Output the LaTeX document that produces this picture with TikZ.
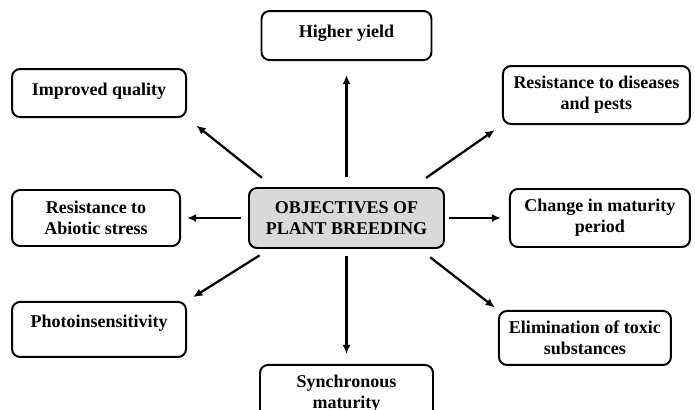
\documentclass[tikz,border=0pt]{standalone}
\usepackage{fontspec}
\setmainfont{Liberation Serif}
\usetikzlibrary{positioning,arrows.meta}
\tikzset{aim node/.style={rectangle,rounded corners=0.2cm,draw,line width=1.4pt,inner sep=0pt,align=center,
            font=\fontsize{12.8}{14.8}\selectfont\bfseries},
         main node/.style={aim node,fill=black!15,minimum width=4.875cm,minimum height=1.5cm},
            }

\begin{document}
\begin{tikzpicture}
    \useasboundingbox (-8.6625,-4.8) rectangle (8.7125,5.45);
    \node[main node] (1) at (0,0) {OBJECTIVES OF\\PLANT BREEDING};
    \node[aim node,minimum width=4.25cm,text height=0.66cm,text depth=0.565cm] (2) [above = 3.15cm of 1] {Higher yield};
    \node[aim node,minimum width=4.35cm,text height=0.65cm,text depth=0.55cm] (3) [above left = 1.725cm and 1.525cm of 1] {Improved quality};
    \node[aim node,minimum width=4.675cm,minimum height=1.45cm] (4) [above right = 1.55cm and 1.425cm of 1] {Resistance to diseases\\and pests};
    \node[aim node,minimum width=4.2cm,minimum height=1.4cm] (5) [left = 1.675cm of 1] {Resistance to\\Abiotic stress};
    \node[aim node,minimum width=4.5cm,minimum height=1.45cm] (6) [right = 1.6cm of 1] {Change in maturity\\period};
    \node[aim node,minimum width=4.35cm,text height=0.65cm,text depth=0.725cm] (7) [below left = 1.3cm and 1.525cm of 1] {Photoinsensitivity};
    \node[aim node,minimum width=4.3cm,minimum height=1.35cm] (8) [below right = 1.525cm and 1.325cm of 1] {Elimination of toxic\\substances};
    \node[aim node,minimum width=4.325cm,minimum height=1.45cm] (9) [below = 2.875cm of 1] {Synchronous\\maturity};

    \path[line width=1.6pt,-{Latex[length=2.3mm,width=2mm]}]
    (1.north) edge[shorten <=0.25cm,shorten >=0.35cm] (2.south)
    (1.157) edge[shorten <=0.37cm,shorten >=0.3cm] (3.south east)
    (1.25) edge[shorten <=0.4cm,shorten >=0.22cm] (4.south west)
    (1.west) edge[shorten <=0.175cm,shorten >=0.15cm] (5.east)
    (1.east) edge[shorten <=0.1cm,shorten >=0.2cm] (6.west)
    (1.202) edge[shorten <=0.3cm,shorten >=0.18cm] (7.north east)
    (1.337) edge[shorten <=0.34cm,shorten >=0.1cm] (8.north west)
    (1.south) edge[shorten <=0.175cm,shorten >=0.25cm] (9.north);
    %%

\end{tikzpicture}
\end{document}
